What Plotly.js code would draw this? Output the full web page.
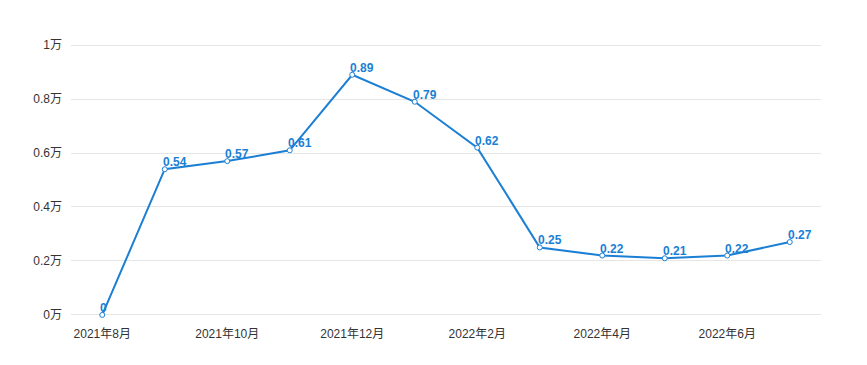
<!DOCTYPE html>
<html><head><meta charset="utf-8">
<script src="https://cdn.plot.ly/plotly-3.0.1.min.js"></script>
<style>html,body{margin:0;padding:0;background:#fff;}#chart{width:867px;height:365px;}</style>
</head><body><div id="chart"></div>
<script>
const months = ["2021年8月","2021年9月","2021年10月","2021年11月","2021年12月","2022年1月","2022年2月","2022年3月","2022年4月","2022年5月","2022年6月","2022年7月"];
const values = [0, 0.54, 0.57, 0.61, 0.89, 0.79, 0.62, 0.25, 0.22, 0.21, 0.22, 0.27];
const valueLabels = ["0","0.54","0.57","0.61","0.89","0.79","0.62","0.25","0.22","0.21","0.22","0.27"];
const xTicks = ["2021年8月","2021年10月","2021年12月","2022年2月","2022年4月","2022年6月"];
const yTickVals = [0, 0.2, 0.4, 0.6, 0.8, 1];
const yTickText = ["0万","0.2万","0.4万","0.6万","0.8万","1万"];
const blue = "#1b7fd4";
const font = "Liberation Sans, Arial, Noto Sans CJK SC, sans-serif";
const annotations = months.map((m,i)=>({
  x: m, y: values[i], xref:'x', yref:'y', text: valueLabels[i],
  showarrow:false, xanchor:'left', yanchor:'bottom', xshift:-4, yshift:-2,
  font:{family:font, size:12, color:blue, weight:'bold'}
}));
Plotly.newPlot('chart', [{
  x: months, y: values, type:'scatter', mode:'lines+markers',
  line:{color:blue, width:2},
  marker:{size:5, color:'#fff', line:{color:blue, width:1}},
  hoverinfo:'skip', cliponaxis:false
}], {
  width:867, height:365,
  margin:{l:71, r:46, t:44, b:49},
  paper_bgcolor:'#fff', plot_bgcolor:'#fff',
  showlegend:false,
  font:{family:font, size:12, color:'#333'},
  xaxis:{type:'category', range:[-0.5,11.5], tickvals:xTicks, ticktext:xTicks,
    showgrid:false, zeroline:false, showline:false, ticks:'', ticklabelstandoff:9, tickfont:{size:12, color:'#333'}},
  yaxis:{range:[-0.004,1.004], tickvals:yTickVals, ticktext:yTickText, showgrid:true, gridcolor:'#e6e6e6',
    zeroline:false, showline:false, ticks:'', ticklabelstandoff:8, tickfont:{size:12, color:'#333'}},
  annotations: annotations
}, {displayModeBar:false, staticPlot:true});
</script></body></html>
